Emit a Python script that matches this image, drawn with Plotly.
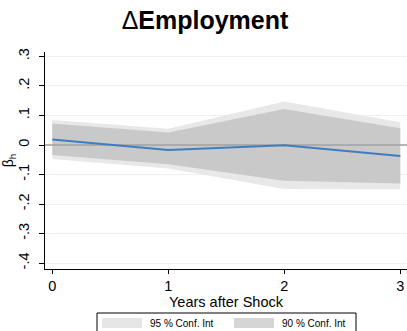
import plotly.graph_objects as go

years = [0, 1, 2, 3]
beta = [0.019, -0.017, -0.001, -0.037]
ci95_lo = [-0.047, -0.080, -0.149, -0.150]
ci95_hi = [0.085, 0.055, 0.147, 0.077]
ci90_lo = [-0.034, -0.065, -0.121, -0.130]
ci90_hi = [0.073, 0.042, 0.122, 0.057]
ytick_vals = [-0.4, -0.3, -0.2, -0.1, 0, 0.1, 0.2, 0.3]
ytick_text = ["-.4", "-.3", "-.2", "-.1", "0", ".1", ".2", ".3"]
legend_labels = ["95 % Conf. Int", "90 % Conf. Int"]

W, H = 407, 331
ML, MR, MT, MB = 45, 0, 52, 62
PW, PH = W - ML - MR, H - MT - MB
FONT = "Liberation Sans, Arial, Helvetica, sans-serif"
C95 = "rgb(232,232,232)"
C90 = "rgb(201,201,201)"

def px(x):
    return (x - ML) / PW

def py(y):
    return (H - MB - y) / PH

fig = go.Figure()
fig.add_trace(go.Scatter(x=years, y=ci95_hi, mode="lines", line=dict(width=0), showlegend=False, hoverinfo="skip"))
fig.add_trace(go.Scatter(x=years, y=ci95_lo, mode="lines", line=dict(width=0), fill="tonexty", fillcolor=C95, showlegend=False, hoverinfo="skip"))
fig.add_trace(go.Scatter(x=years, y=ci90_hi, mode="lines", line=dict(width=0), showlegend=False, hoverinfo="skip"))
fig.add_trace(go.Scatter(x=years, y=ci90_lo, mode="lines", line=dict(width=0), fill="tonexty", fillcolor=C90, showlegend=False, hoverinfo="skip"))
fig.add_trace(go.Scatter(x=[-1, 4], y=[0, 0], mode="lines", line=dict(color="rgb(160,160,160)", width=1.5), showlegend=False, hoverinfo="skip"))
fig.add_trace(go.Scatter(x=years, y=beta, mode="lines", line=dict(color="rgb(62,126,192)", width=2), showlegend=False))

shapes = [
    dict(type="rect", xref="paper", yref="paper", x0=px(97), x1=px(356), y0=py(340), y1=py(313),
         line=dict(color="black", width=1), fillcolor="white", layer="above"),
    dict(type="rect", xref="paper", yref="paper", x0=px(102), x1=px(142), y0=py(328), y1=py(318),
         line=dict(width=0), fillcolor="rgb(230,230,230)", layer="above"),
    dict(type="rect", xref="paper", yref="paper", x0=px(234), x1=px(274), y0=py(328), y1=py(318),
         line=dict(width=0), fillcolor="rgb(213,213,213)", layer="above"),
]
annotations = [
    dict(xref="paper", yref="paper", x=px(148), y=py(323), text=legend_labels[0], showarrow=False,
         xanchor="left", yanchor="middle", font=dict(family=FONT, size=10, color="black")),
    dict(xref="paper", yref="paper", x=px(280), y=py(323), text=legend_labels[1], showarrow=False,
         xanchor="left", yanchor="middle", font=dict(family=FONT, size=10, color="black")),
]

fig.update_layout(
    width=W, height=H,
    margin=dict(l=ML, r=MR, t=MT, b=MB),
    paper_bgcolor="white", plot_bgcolor="white",
    font=dict(family=FONT, color="black"),
    title=dict(text="Δ<b>Employment</b>", x=205 / W, xanchor="center", y=1 - 20 / H, yanchor="middle",
               yref="container", font=dict(family=FONT, size=25, color="black")),
    shapes=shapes, annotations=annotations,
    xaxis=dict(range=[-0.063, 3.058], tickvals=years, ticktext=[str(v) for v in years],
               showline=True, linecolor="black", linewidth=1, ticks="outside", ticklen=4, tickcolor="black",
               showgrid=False, zeroline=False, tickfont=dict(size=14.5),
               title=dict(text="Years after Shock", font=dict(size=14.5), standoff=1)),
    yaxis=dict(range=[-0.42, 0.315], tickvals=ytick_vals, ticktext=ytick_text, tickangle=-90,
               showline=True, linecolor="black", linewidth=1, ticks="outside", ticklen=5, tickcolor="black",
               ticklabelstandoff=4,
               showgrid=True, gridcolor="rgb(234,242,243)", gridwidth=1, zeroline=False,
               tickfont=dict(size=14.5),
               title=dict(text="β<sub>h</sub>", font=dict(size=14), standoff=1)),
)

fig.write_html("out.html", config={"displayModeBar": False},
               post_script="document.body.style.margin='0';document.body.style.overflow='hidden';")
